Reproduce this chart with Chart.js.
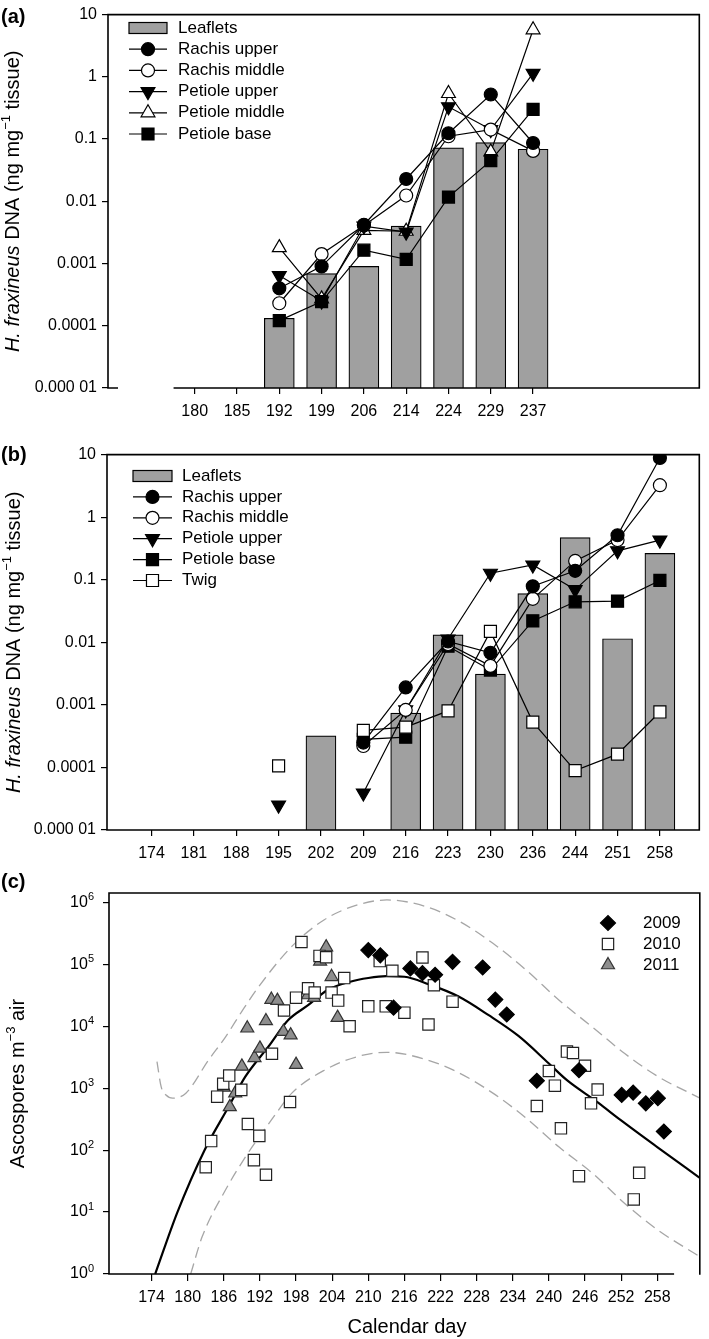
<!DOCTYPE html>
<html>
<head>
<meta charset="utf-8">
<script src="https://cdn.jsdelivr.net/npm/chart.js@4.4.0/dist/chart.umd.min.js"></script>
<style>
  body { margin: 0; background: #fff; width: 709px; height: 1339px; position: relative; overflow: hidden; }
  canvas { position: absolute; left: 0; }
</style>
</head>
<body>
<canvas id="chartA" width="709" height="440" style="top:0px"></canvas>
<canvas id="chartB" width="709" height="430" style="top:440px"></canvas>
<canvas id="chartC" width="709" height="474" style="top:865px"></canvas>
<script>
// ---- panel (a) : 2012 ----
var daysA = ['', '180', '185', '192', '199', '206', '214', '224', '229', '237', '', '', ''];
var tickIdxA = [1, 2, 3, 4, 5, 6, 7, 8, 9];
var leafletsA      = [null, null, null, 0.000132, 0.00069, 0.0009, 0.004, 0.072, 0.0875, 0.0687, null, null, null];
var rachisUpperA   = [null, null, null, 0.0004, 0.0009, 0.0042, 0.0228, 0.124, 0.52, 0.0865, null, null, null];
var rachisMiddleA  = [null, null, null, 0.00023, 0.00142, 0.0041, 0.0124, 0.111, 0.142, 0.0646, null, null, null];
var petioleUpperA  = [null, null, null, 0.00064, 0.00025, 0.004, 0.0032, 0.33, 0.142, 1.14, null, null, null];
var petioleMiddleA = [null, null, null, 0.0018, 0.00027, 0.0034, 0.0033, 0.54, 0.062, 5.7, null, null, null];
var petioleBaseA   = [null, null, null, 0.000121, 0.000245, 0.00164, 0.00117, 0.0117, 0.045, 0.30, null, null, null];

// ---- panel (b) : 2013 ----
var daysB = ['174', '181', '188', '195', '202', '209', '216', '223', '230', '236', '244', '251', '258'];
var tickIdxB = [0, 1, 2, 3, 4, 5, 6, 7, 8, 9, 10, 11, 12];
var leafletsB     = [null, null, null, null, 0.00032, null, 0.00074, 0.0132, 0.0031, 0.060, 0.47, 0.0114, 0.264];
var rachisUpperB  = [null, null, null, null, null, 0.00025, 0.0019, 0.0103, 0.0068, 0.0785, 0.139, 0.514, 8.85];
var rachisMiddleB = [null, null, null, null, null, 0.00022, 0.00083, 0.0094, 0.0042, 0.0495, 0.20, 0.43, 3.24];
var petioleUpperB = [null, null, null, 0.000025, null, 0.000039, 0.00083, 0.0113, 0.127, 0.172, 0.0695, 0.29, 0.43];
var petioleBaseB  = [null, null, null, null, null, 0.00028, 0.000305, 0.00865, 0.0036, 0.022, 0.0444, 0.0455, 0.0975];
var twigB         = [null, null, null, 0.000106, null, 0.00039, 0.00044, 0.0008, 0.0149, 0.00053, 0.000089, 0.000163, 0.00077];

var dnaTicks = [0.00001, 0.0001, 0.001, 0.01, 0.1, 1, 10];
var dnaTickLabels = ['0.000 01', '0.0001', '0.001', '0.01', '0.1', '1', '10'];

// ---- panel (c) : ascospores ----
var dayTicksC = [174, 180, 186, 192, 198, 204, 210, 216, 222, 228, 234, 240, 246, 252, 258];
var sporeTicks = [1, 10, 100, 1000, 10000, 100000, 1000000];
var sporeExponents = ['0', '1', '2', '3', '4', '5', '6'];

var spores2009 = [[210, 170000], [212, 140000], [214.2, 20000], [217, 86000], [219, 72000], [221.1, 68000],
  [224, 110000], [229, 89000], [231.1, 27000], [233, 15500], [238, 1320], [245, 1950], [252.1, 780],
  [254, 850], [256.1, 570], [258.1, 690], [259.1, 200]];
var spores2010 = [[183, 53], [183.9, 140], [184.9, 730], [185.9, 1180], [186.9, 1600], [188.9, 940], [190, 265],
  [191, 69], [191.9, 170], [193, 40], [197, 600], [194, 3600], [196, 18000], [198, 29000], [198.9, 230000],
  [200, 41000], [201.1, 35000], [201.9, 137000], [203, 130000], [203.9, 35000], [205, 26000], [206, 60000],
  [206.9, 10000], [210, 21000], [212.9, 21000], [211.9, 113000], [214, 79000], [216, 16600], [219, 129000],
  [220.9, 46000], [220, 10700], [224, 25000], [238, 515], [240, 1900], [241, 1100], [242, 225], [243, 3900],
  [244, 3700], [245, 38], [246, 2300], [247, 570], [248.1, 950], [254.1, 16], [255, 43]];
var spores2011 = [[186, 1030], [187, 500], [187.9, 830], [189, 2250], [189.9, 9300], [191.1, 3100], [192, 4400],
  [193, 12200], [193.9, 27000], [194.9, 26000], [195.9, 8200], [197.1, 7200], [198, 2400], [200, 32000],
  [201, 29000], [202, 112000], [203, 190000], [203.9, 63000], [204.9, 13800]];

var fitDays = [174.6, 178.3, 182.8, 186.8, 189.6, 193.4, 196.7, 200, 203.3, 207, 210, 213, 216, 220, 225, 230, 235, 240, 243, 248, 252, 258, 265];
var fitVals = [1, 10, 100, 501, 1550, 4680, 12600, 21900, 38900, 52500, 60300, 64600, 63100, 47900, 30200, 15100, 6920, 2510, 1350, 603, 302, 112, 36];
var upperDays = [174.9, 175.6, 176.4, 177.5, 179.7, 183.5, 186.3, 189, 191.8, 197.3, 202.7, 208.2, 213.1, 219.7, 225.2, 230.7, 236.2, 241.7, 247.2, 252.6, 258.1, 265.1];
var upperVals = [2690, 1050, 776, 692, 832, 2880, 6760, 17400, 43600, 195000, 525000, 912000, 1096000, 851000, 490000, 219000, 81300, 26300, 9770, 3630, 1550, 692];
var lowerDays = [180.5, 182.4, 186.3, 189.6, 194, 197.3, 202.7, 208.2, 213.1, 219.7, 225.2, 230.7, 236.2, 241.7, 247.2, 252.6, 258.1, 265.1];
var lowerVals = [1, 3.98, 22.9, 77.6, 316, 832, 1950, 3240, 3800, 2880, 1740, 832, 331, 112, 42.7, 13.8, 5.13, 1.9];

Chart.defaults.font.family = "'Liberation Sans', Arial, sans-serif";
Chart.defaults.font.size = 16;
Chart.defaults.color = '#000';

var FONT = "'Liberation Sans', Arial, sans-serif";

var styles = {
  ru: { pointStyle: 'circle', radius: 6.5, rotation: 0, fill: '#000', border: '#000' },
  rm: { pointStyle: 'circle', radius: 6.5, rotation: 0, fill: '#fff', border: '#000' },
  pu: { pointStyle: 'triangle', radius: 8, rotation: 180, fill: '#000', border: '#000' },
  pm: { pointStyle: 'triangle', radius: 8, rotation: 0, fill: '#fff', border: '#000' },
  pb: { pointStyle: 'rect', radius: 8.5, rotation: 0, fill: '#000', border: '#000' },
  tw: { pointStyle: 'rect', radius: 8.5, rotation: 0, fill: '#fff', border: '#000' },
  y09: { pointStyle: 'rectRot', radius: 7.5, rotation: 0, fill: '#000', border: '#000' },
  y10: { pointStyle: 'rect', radius: 8, rotation: 0, fill: '#fff', border: '#222' },
  y11: { pointStyle: 'triangle', radius: 7.5, rotation: 0, fill: '#8e8e8e', border: '#333' }
};

function drawMarker(ctx, st, x, y) {
  ctx.fillStyle = st.fill;
  ctx.strokeStyle = st.border;
  ctx.lineWidth = 1.2;
  Chart.helpers.drawPoint(ctx, { pointStyle: st.pointStyle, radius: st.radius, rotation: st.rotation, borderWidth: 1.2 }, x, y);
}

function drawRotTitle(ctx, parts, cx, cy, size) {
  ctx.save();
  ctx.translate(cx, cy);
  ctx.rotate(-Math.PI / 2);
  ctx.textBaseline = 'middle';
  ctx.textAlign = 'left';
  ctx.fillStyle = '#000';
  var fonts = parts.map(function (p) {
    return (p.it ? 'italic ' : '') + (p.sup ? Math.round(size * 0.65) : size) + 'px ' + FONT;
  });
  var total = 0, widths = [];
  parts.forEach(function (p, i) { ctx.font = fonts[i]; widths[i] = ctx.measureText(p.t).width; total += widths[i]; });
  var x = -total / 2;
  parts.forEach(function (p, i) {
    ctx.font = fonts[i];
    ctx.fillText(p.t, x, p.sup ? -size * 0.33 : 0);
    x += widths[i];
  });
  ctx.restore();
}

// frame, panel letter, axis titles and legend drawn on top of the chart
var decor = {
  id: 'decor',
  afterDraw: function (chart, args, o) {
    var ctx = chart.ctx, ca = chart.chartArea, xs = chart.scales.x, ys = chart.scales.y;
    ctx.save();
    ctx.strokeStyle = '#000';
    ctx.lineWidth = 1.6;
    ctx.beginPath();
    ctx.moveTo(ca.left, ca.bottom + 0.8);
    ctx.lineTo(ca.left, ca.top);
    ctx.lineTo(ca.right, ca.top);
    ctx.lineTo(ca.right, ca.bottom + 0.8);
    o.bottom(ca, xs).forEach(function (s) {
      ctx.moveTo(s[0], ca.bottom);
      ctx.lineTo(s[1], ca.bottom);
    });
    ctx.stroke();

    ctx.fillStyle = '#000';
    ctx.font = 'bold 20px ' + FONT;
    ctx.textBaseline = 'middle';
    ctx.textAlign = 'left';
    ctx.fillText(o.letter, 1, o.letterY);

    // power-of-ten tick labels with a real superscript
    if (o.powerLabels) {
      ys.ticks.forEach(function (t, i) {
        var y = ys.getPixelForValue(t.value);
        ctx.font = '11px ' + FONT;
        var ew = ctx.measureText(o.powerLabels[i]).width;
        var right = ca.left - 15;
        ctx.textAlign = 'left';
        ctx.fillText(o.powerLabels[i], right - ew, y - 5);
        ctx.font = '16px ' + FONT;
        ctx.textAlign = 'right';
        ctx.fillText('10', right - ew, y);
      });
    }

    drawRotTitle(ctx, o.yTitle, o.yTitleX, (ca.top + ca.bottom) / 2, 20);

    if (o.xTitle) {
      ctx.font = '20px ' + FONT;
      ctx.textAlign = 'center';
      ctx.fillStyle = '#000';
      ctx.fillText(o.xTitle, o.xTitleX, o.xTitleY);
    }

    var L = o.legend;
    L.rows.forEach(function (r, i) {
      var y = L.y0 + i * L.dy;
      if (r.box) {
        ctx.fillStyle = '#a0a0a0';
        ctx.fillRect(L.x0, y - 5.5, L.x1 - L.x0, 11);
        ctx.strokeStyle = '#000';
        ctx.lineWidth = 1.2;
        ctx.strokeRect(L.x0, y - 5.5, L.x1 - L.x0, 11);
      } else {
        if (L.lines) {
          ctx.strokeStyle = '#000';
          ctx.lineWidth = 1.2;
          ctx.beginPath();
          ctx.moveTo(L.x0, y);
          ctx.lineTo(L.x1, y);
          ctx.stroke();
        }
        drawMarker(ctx, styles[r.st], L.mx, y);
      }
      ctx.fillStyle = '#000';
      ctx.font = '17px ' + FONT;
      ctx.textAlign = 'left';
      ctx.textBaseline = 'middle';
      ctx.fillText(r.label, L.tx, y);
    });
    ctx.restore();
  }
};

function lineSet(label, vals, st, order) {
  var s = styles[st];
  return {
    type: 'line', label: label,
    data: vals.map(function (v, i) { return { x: i, y: v }; }),
    borderColor: '#000', borderWidth: 1.2, tension: 0, spanGaps: false, fill: false,
    pointStyle: s.pointStyle, pointRadius: s.radius, pointRotation: s.rotation,
    pointBackgroundColor: s.fill, pointBorderColor: s.border, pointBorderWidth: 1.2,
    order: order
  };
}

function barSet(vals) {
  var pts = [];
  vals.forEach(function (v, i) { if (v !== null) pts.push({ x: i, y: v }); });
  return {
    type: 'bar', label: 'Leaflets', data: pts,
    backgroundColor: '#a0a0a0', borderColor: '#000', borderWidth: 1.2,
    barThickness: 30, order: 20
  };
}

var dnaTitle = [{ t: 'H. fraxineus', it: true }, { t: ' DNA (ng mg' }, { t: '−1', sup: true }, { t: ' tissue)' }];

function dnaChart(id, labels, tickIdx, datasets, geo, decorOpts) {
  return new Chart(document.getElementById(id), {
    type: 'line',
    data: { datasets: datasets },
    options: {
      responsive: false, animation: false, events: [],
      layout: { padding: { top: geo.top, right: geo.right, left: 0, bottom: 0 } },
      plugins: { legend: { display: false }, tooltip: { enabled: false }, decor: decorOpts },
      scales: {
        x: {
          type: 'linear', min: -1.05, max: 12.93, offset: false,
          afterBuildTicks: function (s) { s.ticks = tickIdx.map(function (v) { return { value: v }; }); },
          afterFit: function (s) { s.height = geo.xh; },
          border: { display: false },
          grid: { drawOnChartArea: false, offset: false, tickLength: 6, color: '#000', lineWidth: 1.2 },
          ticks: { callback: function (v) { return labels[v]; }, autoSkip: false, maxRotation: 0, padding: 8, font: { size: 16 } }
        },
        y: {
          type: 'logarithmic', min: 0.00001, max: 10,
          afterBuildTicks: function (s) { s.ticks = dnaTicks.map(function (v) { return { value: v }; }); },
          afterFit: function (s) { s.width = geo.left; },
          border: { display: false },
          grid: { drawOnChartArea: false, tickLength: 6, color: '#000', lineWidth: 1.2 },
          ticks: { callback: function (v, i) { return dnaTickLabels[i]; }, autoSkip: false, padding: 5, font: { size: 16 } }
        }
      }
    },
    plugins: [decor]
  });
}

dnaChart('chartA', daysA, tickIdxA, [
  barSet(leafletsA),
  lineSet('Rachis upper', rachisUpperA, 'ru', 2),
  lineSet('Rachis middle', rachisMiddleA, 'rm', 3),
  lineSet('Petiole upper', petioleUpperA, 'pu', 4),
  lineSet('Petiole middle', petioleMiddleA, 'pm', 5),
  lineSet('Petiole base', petioleBaseA, 'pb', 1)
], { top: 7, right: 3, left: 108, xh: 52 }, {
  letter: '(a)', letterY: 17, yTitle: dnaTitle, yTitleX: 13,
  bottom: function (ca, xs) { return [[ca.left, ca.left + 10], [xs.getPixelForValue(0.5), ca.right]]; },
  legend: {
    x0: 129, x1: 167, mx: 148, tx: 178, y0: 28, dy: 21.2, lines: true,
    rows: [{ label: 'Leaflets', box: true }, { label: 'Rachis upper', st: 'ru' }, { label: 'Rachis middle', st: 'rm' },
      { label: 'Petiole upper', st: 'pu' }, { label: 'Petiole middle', st: 'pm' }, { label: 'Petiole base', st: 'pb' }]
  }
});

dnaChart('chartB', daysB, tickIdxB, [
  barSet(leafletsB),
  lineSet('Rachis upper', rachisUpperB, 'ru', 2),
  lineSet('Rachis middle', rachisMiddleB, 'rm', 3),
  lineSet('Petiole upper', petioleUpperB, 'pu', 4),
  lineSet('Petiole base', petioleBaseB, 'pb', 5),
  lineSet('Twig', twigB, 'tw', 1)
], { top: 10, right: 3, left: 107, xh: 40 }, {
  letter: '(b)', letterY: 15, yTitle: dnaTitle, yTitleX: 14,
  bottom: function (ca) { return [[ca.left, ca.right]]; },
  legend: {
    x0: 133, x1: 172, mx: 152.5, tx: 182, y0: 36, dy: 20.9, lines: true,
    rows: [{ label: 'Leaflets', box: true }, { label: 'Rachis upper', st: 'ru' }, { label: 'Rachis middle', st: 'rm' },
      { label: 'Petiole upper', st: 'pu' }, { label: 'Petiole base', st: 'pb' }, { label: 'Twig', st: 'tw' }]
  }
});

function pairs(days, vals) {
  return days.map(function (d, i) { return { x: d, y: vals[i] }; });
}
function sporeSet(label, arr, st, order) {
  var s = styles[st];
  return {
    type: 'scatter', label: label,
    data: arr.map(function (p) { return { x: p[0], y: p[1] }; }),
    pointStyle: s.pointStyle, pointRadius: s.radius, pointRotation: s.rotation,
    pointBackgroundColor: s.fill, pointBorderColor: s.border, pointBorderWidth: 1.2,
    order: order
  };
}
function curveSet(days, vals, color, width, dash) {
  return {
    type: 'line', data: pairs(days, vals),
    borderColor: color, borderWidth: width, borderDash: dash, pointRadius: 0,
    cubicInterpolationMode: 'monotone', fill: false, order: 10
  };
}

new Chart(document.getElementById('chartC'), {
  type: 'scatter',
  data: {
    datasets: [
      curveSet(upperDays, upperVals, '#a6a6a6', 1.3, [11, 6]),
      curveSet(lowerDays, lowerVals, '#a6a6a6', 1.3, [11, 6]),
      curveSet(fitDays, fitVals, '#000', 2.2, []),
      sporeSet('2011', spores2011, 'y11', 3),
      sporeSet('2010', spores2010, 'y10', 2),
      sporeSet('2009', spores2009, 'y09', 1)
    ]
  },
  options: {
    responsive: false, animation: false, events: [],
    layout: { padding: { top: 28, right: 3, left: 0, bottom: 0 } },
    plugins: {
      legend: { display: false }, tooltip: { enabled: false },
      decor: {
        letter: '(c)', letterY: 17, powerLabels: sporeExponents,
        yTitle: [{ t: 'Ascospores m' }, { t: '−3', sup: true }, { t: ' air' }], yTitleX: 18,
        xTitle: 'Calendar day', xTitleX: 407, xTitleY: 462,
        bottom: function (ca, xs) { return [[ca.left, xs.getPixelForValue(260.8)]]; },
        legend: {
          mx: 608, tx: 643, y0: 58, dy: 21, lines: false,
          rows: [{ label: '2009', st: 'y09' }, { label: '2010', st: 'y10' }, { label: '2011', st: 'y11' }]
        }
      }
    },
    scales: {
      x: {
        type: 'linear', min: 166.93, max: 265.07,
        afterBuildTicks: function (s) { s.ticks = dayTicksC.map(function (v) { return { value: v }; }); },
        afterFit: function (s) { s.height = 65; },
        border: { display: false },
        grid: { drawOnChartArea: false, tickLength: 7, color: '#000', lineWidth: 1.2 },
        ticks: { autoSkip: false, maxRotation: 0, padding: 7, font: { size: 16 } }
      },
      y: {
        type: 'logarithmic', min: 1, max: 1420000,
        afterBuildTicks: function (s) { s.ticks = sporeTicks.map(function (v) { return { value: v }; }); },
        afterFit: function (s) { s.width = 109; },
        border: { display: false },
        grid: { drawOnChartArea: false, tickLength: 6, color: '#000', lineWidth: 1.2 },
        ticks: { callback: function () { return ''; }, autoSkip: false, padding: 8, font: { size: 16 } }
      }
    }
  },
  plugins: [decor]
});
</script>
</body>
</html>
